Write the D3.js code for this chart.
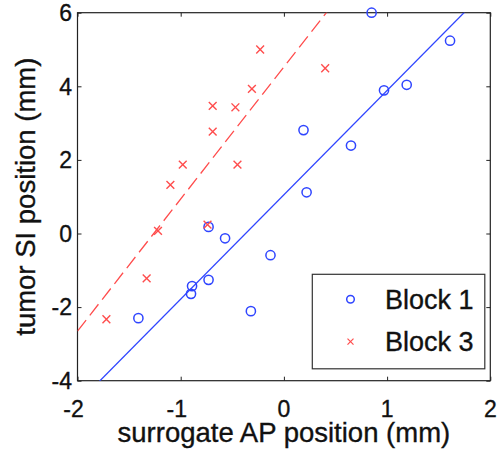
<!DOCTYPE html>
<html>
<head>
<meta charset="utf-8">
<script src="https://cdn.jsdelivr.net/npm/d3@7"></script>
<style>
    body { margin: 0; background: #fff; }
    svg { display: block; font-family: "Liberation Sans", Arial, Helvetica, sans-serif; }
    text { fill: #111; stroke: #111; stroke-width: 0.35px; }
</style>
</head>
<body>
<svg id="chart" width="498" height="453"></svg>
<script>
// Block 1 (blue circles)
const block1X = [0.85, 1.61, 0.97, 1.19, 0.19, 0.65, 0.22, -0.13, -0.32, -0.73, -0.57, -0.89, -0.90, -0.73, -1.41];
const block1Y = [6.00, 5.24, 3.89, 4.04, 2.81, 2.39, 1.12, -0.59, -2.11, 0.18, -0.13, -1.43, -1.64, -1.26, -2.30];

// Block 3 (red crosses)
const block3X = [-0.69, -0.69, -0.47, -0.98, -0.45, -1.10, -0.31, -0.23, 0.40, -1.22, -1.33, -1.72, -0.74];
const block3Y = [3.47, 2.77, 3.43, 1.87, 1.87, 1.32, 3.93, 5.00, 4.49, 0.07, -1.22, -2.33, 0.24];

// fitted lines: y = slope * x + intercept
const fitSlope = [2.835, 3.588];
const fitIntercept = [1.052, 4.525];

const seriesNames = ["Block 1", "Block 3"];
const xTicks = [-2, -1, 0, 1, 2];
const yTicks = [-4, -2, 0, 2, 4, 6];
const xLabel = "surrogate AP position (mm)";
const yLabel = "tumor SI position (mm)";

const blue = "#2f45ff";
const red = "#ff4d4d";

const width = 498, height = 453;
const margin = { top: 12.7, right: 7.7, bottom: 72.3, left: 77.5 };
const svg = d3.select("#chart");

const x = d3.scaleLinear().domain([-2, 2]).range([margin.left, width - margin.right]);
const y = d3.scaleLinear().domain([-4, 6]).range([height - margin.bottom, margin.top]);

const block1 = block1X.map((v, i) => ({ x: v, y: block1Y[i] }));
const block3 = block3X.map((v, i) => ({ x: v, y: block3Y[i] }));

svg.append("defs").append("clipPath").attr("id", "plot-clip")
    .append("rect")
    .attr("x", x(-2)).attr("y", y(6))
    .attr("width", x(2) - x(-2)).attr("height", y(-4) - y(6));

// axes with inward ticks on all four sides
const tickLen = 4;
const axes = svg.append("g").attr("class", "axes");

axes.append("g")
    .attr("transform", `translate(0,${y(-4)})`)
    .call(d3.axisBottom(x).tickValues(xTicks).tickSizeInner(-tickLen).tickSizeOuter(0).tickFormat(""));
axes.append("g")
    .attr("transform", `translate(0,${y(6)})`)
    .call(d3.axisTop(x).tickValues(xTicks).tickSizeInner(-tickLen).tickSizeOuter(0).tickFormat(""));
axes.append("g")
    .attr("transform", `translate(${x(-2)},0)`)
    .call(d3.axisLeft(y).tickValues(yTicks).tickSizeInner(-tickLen).tickSizeOuter(0).tickFormat(""));
axes.append("g")
    .attr("transform", `translate(${x(2)},0)`)
    .call(d3.axisRight(y).tickValues(yTicks).tickSizeInner(-tickLen).tickSizeOuter(0).tickFormat(""));

axes.selectAll(".domain").remove();
axes.selectAll(".tick line").attr("stroke", "#222").attr("stroke-width", 1);

axes.append("rect")
    .attr("x", x(-2)).attr("y", y(6))
    .attr("width", x(2) - x(-2)).attr("height", y(-4) - y(6))
    .attr("fill", "none")
    .attr("stroke", "#222")
    .attr("stroke-width", 1.2);

// tick labels (MATLAB centres the digits, the minus hangs to the left)
svg.append("g").selectAll("text")
    .data(xTicks)
    .join("text")
    .attr("x", d => x(d))
    .attr("y", 417)
    .attr("dx", d => d < 0 ? "-0.17em" : 0)
    .attr("text-anchor", "middle")
    .attr("font-size", 23)
    .text(d => d);

svg.append("g").selectAll("text")
    .data(yTicks)
    .join("text")
    .attr("x", 72)
    .attr("y", d => y(d))
    .attr("dy", "0.36em")
    .attr("text-anchor", "end")
    .attr("font-size", 23)
    .text(d => d);

// axis labels
svg.append("text")
    .attr("x", (x(-2) + x(2)) / 2)
    .attr("y", 442)
    .attr("text-anchor", "middle")
    .attr("font-size", 27.5)
    .text(xLabel);

svg.append("text")
    .attr("transform", `translate(35,${(y(-4) + y(6)) / 2}) rotate(-90)`)
    .attr("text-anchor", "middle")
    .attr("font-size", 27.5)
    .text(yLabel);

// fit lines
const lineColors = [blue, red];
const lineDash = [null, "14,6"];
svg.append("g").attr("clip-path", "url(#plot-clip)")
    .selectAll("line")
    .data(fitSlope)
    .join("line")
    .attr("x1", x(-2))
    .attr("y1", (d, i) => y(d * -2 + fitIntercept[i]))
    .attr("x2", x(2))
    .attr("y2", (d, i) => y(d * 2 + fitIntercept[i]))
    .attr("stroke", (d, i) => lineColors[i])
    .attr("stroke-width", 1.3)
    .attr("stroke-dasharray", (d, i) => lineDash[i]);

// markers
const crossPath = s => `M${-s},${-s}L${s},${s}M${-s},${s}L${s},${-s}`;

svg.append("g").selectAll("circle")
    .data(block1)
    .join("circle")
    .attr("cx", d => x(d.x))
    .attr("cy", d => y(d.y))
    .attr("r", 4.6)
    .attr("fill", "none")
    .attr("stroke", blue)
    .attr("stroke-width", 1.5);

svg.append("g").selectAll("path")
    .data(block3)
    .join("path")
    .attr("transform", d => `translate(${x(d.x)},${y(d.y)})`)
    .attr("d", crossPath(3.9))
    .attr("fill", "none")
    .attr("stroke", red)
    .attr("stroke-width", 1.4);

// legend
const legend = svg.append("g");
legend.append("rect")
    .attr("x", 312.3).attr("y", 274.3)
    .attr("width", 172.5).attr("height", 94.5)
    .attr("fill", "#fff")
    .attr("stroke", "#333")
    .attr("stroke-width", 1.2);

const legendRows = legend.selectAll("g.row")
    .data(seriesNames)
    .join("g")
    .attr("class", "row")
    .attr("transform", (d, i) => `translate(0,${299.3 + i * 42.4})`);

legendRows.filter((d, i) => i === 0).append("circle")
    .attr("cx", 350.5).attr("cy", 0)
    .attr("r", 3.8)
    .attr("fill", "none")
    .attr("stroke", blue)
    .attr("stroke-width", 1.5);

legendRows.filter((d, i) => i === 1).append("path")
    .attr("transform", "translate(350.5,0)")
    .attr("d", crossPath(3))
    .attr("fill", "none")
    .attr("stroke", red)
    .attr("stroke-width", 1.2);

legendRows.append("text")
    .attr("x", 385)
    .attr("y", 0)
    .attr("dy", "0.36em")
    .attr("font-size", 27)
    .text(d => d);
</script>
</body>
</html>
